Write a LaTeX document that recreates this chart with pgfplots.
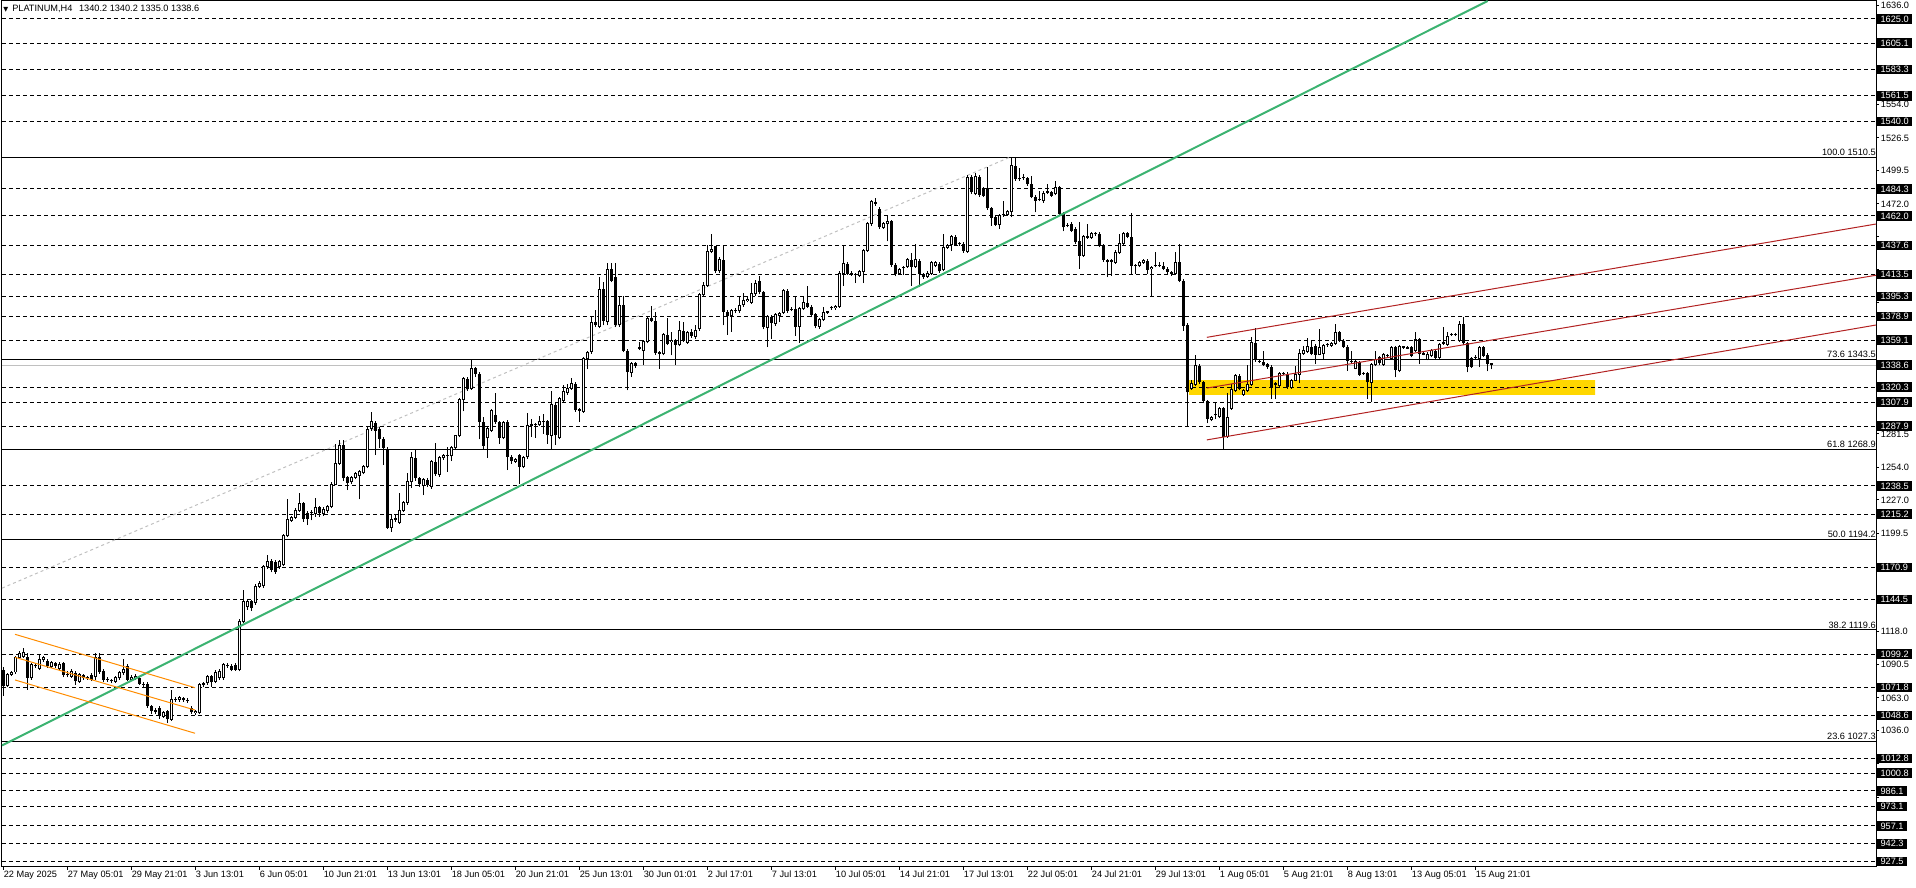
\documentclass[border=0pt]{standalone}
\usepackage{pgfplots}
\pgfplotsset{compat=1.18}
\usepackage{pgfplotstable}
\usepackage{fontspec}
\setmainfont{Liberation Sans}
\newfontfamily\symf{DejaVu Sans}
\newcommand\tf{\fontsize{6.9pt}{8pt}\selectfont}
\newcommand\titlef{\fontsize{6.9pt}{8pt}\selectfont}
\definecolor{mtgreen}{RGB}{60,179,113}
\definecolor{mtorange}{RGB}{255,140,0}
\definecolor{mtred}{RGB}{178,34,34}
\definecolor{mtgold}{RGB}{255,215,0}
\definecolor{mtgray}{RGB}{192,192,192}

\pgfplotstableread{
i o h l c
0 1086.5 1089.0 1065.0 1072.7
1 1073.3 1084.0 1072.0 1082.3
2 1082.3 1085.5 1081.0 1083.7
3 1084.5 1098.0 1083.0 1096.9
4 1096.1 1101.5 1095.0 1100.2
5 1097.0 1104.3 1096.0 1100.8
6 1096.9 1100.2 1069.9 1079.6
7 1079.6 1092.0 1078.0 1090.6
8 1090.6 1092.0 1088.0 1089.2
9 1087.8 1098.8 1086.0 1094.7
10 1094.7 1098.0 1093.0 1096.1
11 1093.3 1095.0 1088.0 1089.2
12 1089.2 1094.0 1088.0 1092.0
13 1092.0 1093.0 1088.0 1089.8
14 1087.8 1093.0 1086.5 1091.1
15 1092.0 1093.0 1080.0 1082.3
16 1082.3 1085.0 1080.0 1082.6
17 1081.0 1087.0 1079.6 1085.1
18 1083.7 1085.0 1074.0 1076.8
19 1076.8 1084.0 1075.5 1082.3
20 1082.3 1083.0 1078.0 1079.6
21 1079.6 1081.5 1078.0 1080.0
22 1082.3 1083.7 1077.0 1078.2
23 1080.4 1100.2 1078.0 1096.9
24 1096.9 1100.2 1083.0 1084.3
25 1085.1 1087.0 1076.0 1078.2
26 1078.2 1080.0 1076.5 1078.6
27 1078.2 1079.0 1075.0 1076.8
28 1076.8 1081.0 1075.5 1079.6
29 1079.6 1085.0 1078.0 1083.7
30 1083.7 1095.3 1082.0 1086.5
31 1089.2 1091.0 1077.0 1078.2
32 1078.2 1082.0 1077.0 1079.6
33 1079.6 1083.0 1078.0 1081.0
34 1079.6 1081.0 1074.0 1074.9
35 1074.9 1076.0 1071.0 1074.1
36 1074.9 1076.0 1055.0 1056.2
37 1056.2 1057.0 1050.0 1052.1
38 1052.1 1054.5 1050.0 1052.4
39 1054.8 1056.0 1046.0 1047.9
40 1047.9 1052.0 1046.5 1050.7
41 1052.1 1053.0 1042.4 1045.2
42 1045.2 1069.9 1044.0 1061.7
43 1061.7 1064.0 1060.0 1062.0
44 1062.0 1065.0 1060.0 1063.1
45 1063.1 1064.0 1060.0 1061.7
46 1061.7 1063.0 1059.0 1060.3
47 1054.8 1056.0 1050.0 1051.2
48 1051.2 1053.0 1049.3 1052.1
49 1050.7 1075.5 1050.0 1074.1
50 1074.1 1076.0 1072.0 1074.6
51 1075.5 1082.0 1074.0 1080.4
52 1081.0 1082.0 1072.0 1076.0
53 1076.8 1086.0 1075.0 1083.7
54 1079.6 1087.0 1078.0 1085.1
55 1079.6 1092.0 1078.0 1090.6
56 1090.6 1092.0 1088.0 1089.2
57 1089.8 1091.0 1085.0 1086.5
58 1090.6 1092.0 1085.5 1086.5
59 1086.5 1128.0 1085.0 1126.4
60 1126.4 1152.0 1125.0 1142.9
61 1138.8 1145.0 1136.0 1142.9
62 1142.9 1144.0 1135.0 1137.4
63 1142.0 1157.0 1140.0 1155.3
64 1155.3 1160.0 1154.0 1158.0
65 1155.8 1173.0 1154.0 1171.8
66 1171.8 1181.4 1170.0 1175.9
67 1176.7 1178.0 1167.0 1169.0
68 1175.9 1177.0 1166.0 1167.6
69 1171.8 1177.0 1170.0 1175.9
70 1173.2 1198.5 1172.0 1197.1
71 1197.1 1227.4 1196.0 1210.9
72 1210.3 1214.0 1209.0 1212.5
73 1212.5 1220.0 1211.0 1218.0
74 1218.0 1232.3 1217.0 1224.1
75 1224.1 1225.0 1209.0 1210.9
76 1216.4 1218.0 1206.0 1210.9
77 1216.4 1219.0 1210.0 1216.8
78 1215.8 1228.2 1213.0 1220.8
79 1220.8 1222.0 1213.0 1215.8
80 1215.3 1221.0 1214.0 1219.1
81 1218.0 1223.0 1216.0 1221.3
82 1221.3 1241.5 1220.0 1240.0
83 1240.0 1273.6 1239.0 1257.1
84 1257.1 1276.9 1256.0 1272.2
85 1272.2 1276.3 1243.0 1244.7
86 1245.5 1247.0 1235.1 1240.6
87 1241.9 1247.0 1240.0 1245.5
88 1245.5 1250.0 1244.0 1248.8
89 1247.5 1251.5 1227.4 1250.2
90 1249.4 1256.0 1248.0 1254.3
91 1254.9 1287.0 1253.0 1285.2
92 1286.0 1299.7 1284.0 1291.5
93 1290.7 1292.0 1264.0 1284.1
94 1286.0 1287.0 1270.0 1277.7
95 1277.7 1279.0 1255.7 1270.0
96 1269.4 1270.5 1203.0 1203.9
97 1203.9 1214.9 1200.6 1211.1
98 1211.1 1214.4 1209.0 1211.4
99 1208.3 1232.3 1207.0 1218.5
100 1218.5 1226.0 1217.0 1224.8
101 1224.8 1249.6 1223.0 1241.9
102 1241.9 1266.7 1237.0 1261.7
103 1261.7 1268.9 1243.0 1244.7
104 1245.2 1246.0 1238.0 1239.7
105 1239.2 1245.0 1230.9 1243.6
106 1243.6 1245.0 1238.0 1239.2
107 1237.8 1260.0 1236.0 1258.4
108 1258.4 1274.4 1247.0 1248.0
109 1248.0 1263.0 1246.0 1261.7
110 1261.7 1265.3 1260.0 1263.4
111 1263.4 1270.8 1250.2 1263.0
112 1263.4 1271.5 1259.0 1270.0
113 1270.0 1281.0 1269.0 1279.9
114 1279.9 1311.5 1279.0 1310.2
115 1310.2 1328.5 1300.3 1327.2
116 1327.2 1329.0 1317.0 1319.0
117 1319.0 1343.2 1318.0 1335.5
118 1336.0 1337.0 1328.6 1331.4
119 1331.4 1332.5 1277.1 1291.4
120 1291.4 1295.6 1269.4 1271.6
121 1278.2 1287.0 1261.7 1285.9
122 1284.6 1302.5 1283.0 1301.1
123 1297.0 1315.7 1290.0 1291.4
124 1291.4 1292.5 1273.6 1278.2
125 1278.2 1292.5 1277.0 1291.4
126 1291.4 1293.0 1251.5 1262.6
127 1262.6 1264.0 1257.0 1259.0
128 1259.0 1262.0 1257.5 1260.6
129 1263.9 1265.0 1240.5 1254.3
130 1254.3 1263.0 1253.0 1261.7
131 1262.6 1299.2 1261.0 1288.7
132 1288.7 1293.6 1279.1 1289.3
133 1289.3 1291.0 1278.2 1289.0
134 1289.3 1296.4 1288.0 1292.0
135 1292.0 1298.3 1281.8 1291.4
136 1292.0 1293.0 1273.6 1280.4
137 1280.4 1316.8 1269.4 1305.8
138 1305.8 1307.0 1272.2 1280.4
139 1278.2 1312.0 1277.1 1310.7
140 1309.3 1321.7 1308.0 1316.8
141 1315.7 1323.1 1314.0 1319.0
142 1319.0 1327.8 1318.0 1323.1
143 1323.1 1324.5 1300.0 1301.1
144 1301.1 1303.0 1291.4 1301.5
145 1300.3 1345.0 1299.0 1343.7
146 1343.7 1350.5 1335.5 1349.2
147 1349.8 1379.5 1348.0 1374.0
148 1374.6 1384.5 1370.0 1371.3
149 1370.7 1411.2 1369.0 1401.5
150 1401.5 1407.0 1371.3 1375.4
151 1374.6 1422.7 1371.3 1418.0
152 1418.0 1422.7 1407.0 1408.4
153 1411.2 1422.7 1370.0 1371.8
154 1371.8 1396.0 1370.0 1387.8
155 1388.3 1396.0 1349.0 1350.6
156 1350.6 1351.5 1317.6 1332.7
157 1332.2 1341.5 1328.6 1340.2
158 1340.2 1341.0 1336.5 1337.7
159 1352.5 1357.5 1351.0 1353.0
160 1350.6 1359.5 1338.8 1358.0
161 1358.0 1378.5 1356.5 1377.3
162 1377.3 1387.2 1374.0 1375.4
163 1375.4 1382.3 1347.0 1348.4
164 1348.4 1350.0 1335.5 1348.8
165 1347.9 1365.0 1346.5 1363.8
166 1363.8 1377.3 1355.0 1356.1
167 1358.0 1366.3 1346.5 1358.9
168 1358.9 1360.0 1338.8 1355.3
169 1355.3 1375.4 1354.0 1367.1
170 1366.6 1374.0 1357.5 1358.9
171 1357.5 1367.0 1356.0 1365.5
172 1366.3 1368.0 1361.0 1362.5
173 1362.5 1371.5 1360.5 1367.1
174 1368.5 1398.0 1367.0 1396.6
175 1396.6 1407.0 1395.0 1404.3
176 1404.3 1437.9 1403.0 1432.4
177 1432.4 1447.0 1431.0 1434.6
178 1436.8 1437.4 1415.0 1416.7
179 1416.7 1428.0 1415.0 1426.3
180 1425.7 1436.8 1371.3 1382.8
181 1382.8 1384.0 1363.8 1379.5
182 1379.5 1385.0 1366.3 1383.6
183 1383.6 1386.0 1381.5 1383.9
184 1383.6 1396.0 1382.0 1387.8
185 1388.3 1398.2 1387.0 1391.9
186 1391.9 1395.0 1390.5 1393.0
187 1390.6 1406.3 1389.5 1398.0
188 1397.5 1409.1 1396.0 1406.3
189 1408.0 1412.6 1397.0 1398.9
190 1398.9 1399.5 1368.0 1369.9
191 1369.9 1380.0 1353.4 1378.7
192 1378.7 1380.0 1360.3 1373.2
193 1373.2 1382.0 1371.0 1380.4
194 1379.6 1382.5 1374.1 1380.9
195 1382.3 1401.6 1381.0 1400.2
196 1400.2 1401.6 1382.0 1383.7
197 1385.1 1386.5 1383.0 1384.2
198 1385.1 1396.1 1363.0 1369.9
199 1370.5 1386.5 1356.7 1385.1
200 1385.1 1396.1 1384.0 1390.6
201 1389.8 1404.4 1386.0 1387.0
202 1387.0 1388.5 1378.0 1379.6
203 1380.9 1382.0 1369.0 1370.5
204 1370.5 1377.5 1368.5 1376.0
205 1376.0 1386.5 1375.0 1382.3
206 1382.3 1383.7 1381.0 1382.6
207 1385.9 1387.5 1384.5 1386.2
208 1385.9 1388.5 1384.5 1387.0
209 1387.0 1416.0 1386.0 1414.6
210 1414.6 1438.3 1404.4 1422.3
211 1422.3 1423.5 1413.0 1414.0
212 1414.0 1416.0 1412.5 1414.3
213 1413.5 1415.0 1406.3 1413.8
214 1412.6 1417.5 1411.5 1416.2
215 1416.2 1434.5 1406.3 1433.3
216 1433.3 1457.0 1432.0 1455.9
217 1455.9 1475.5 1454.0 1474.1
218 1473.3 1476.6 1470.5 1471.9
219 1467.8 1469.0 1451.0 1452.6
220 1452.6 1457.0 1451.5 1455.4
221 1455.4 1462.0 1441.0 1457.6
222 1457.6 1459.0 1420.0 1421.7
223 1421.7 1423.0 1412.0 1414.0
224 1414.6 1419.0 1413.0 1417.3
225 1419.0 1420.5 1413.5 1419.3
226 1420.1 1427.0 1419.0 1425.6
227 1425.6 1431.1 1404.4 1420.1
228 1420.1 1438.8 1419.0 1425.6
229 1425.0 1426.5 1403.0 1414.0
230 1414.0 1415.0 1410.0 1411.3
231 1412.0 1416.0 1411.0 1414.6
232 1414.6 1425.0 1413.5 1423.7
233 1420.9 1425.0 1419.5 1423.7
234 1422.3 1423.5 1415.0 1416.2
235 1417.3 1447.1 1416.0 1436.1
236 1436.1 1439.0 1435.0 1437.4
237 1438.3 1446.5 1432.8 1444.9
238 1444.9 1446.0 1437.0 1438.3
239 1438.8 1440.5 1437.5 1439.2
240 1438.8 1440.0 1431.5 1432.8
241 1432.8 1495.5 1431.5 1494.0
242 1494.0 1495.5 1480.0 1481.5
243 1480.2 1497.5 1479.0 1494.5
244 1494.5 1496.0 1478.0 1479.6
245 1484.3 1486.0 1477.5 1478.8
246 1485.1 1502.8 1467.0 1468.3
247 1468.3 1469.5 1454.0 1460.3
248 1461.4 1463.0 1453.5 1454.8
249 1454.8 1463.5 1451.2 1462.2
250 1463.1 1474.6 1461.5 1463.4
251 1463.1 1467.0 1462.0 1465.8
252 1465.8 1510.5 1460.9 1503.6
253 1503.6 1510.5 1491.0 1492.6
254 1492.6 1501.7 1491.0 1492.9
255 1493.4 1496.7 1492.0 1494.0
256 1493.4 1494.5 1487.0 1488.4
257 1488.4 1495.3 1476.5 1478.0
258 1478.0 1479.0 1465.0 1474.6
259 1475.2 1482.9 1474.0 1475.5
260 1474.6 1482.9 1473.0 1480.7
261 1481.5 1488.4 1480.0 1481.8
262 1481.5 1482.5 1477.5 1478.8
263 1480.2 1490.6 1479.0 1485.7
264 1485.7 1487.0 1462.0 1463.6
265 1463.6 1465.0 1449.3 1452.6
266 1454.0 1456.0 1452.5 1454.3
267 1455.4 1457.0 1448.5 1449.8
268 1451.2 1452.5 1439.0 1440.2
269 1441.6 1456.7 1418.2 1429.2
270 1429.2 1446.5 1428.0 1444.9
271 1444.3 1455.4 1443.0 1444.6
272 1444.3 1449.0 1443.0 1447.6
273 1447.1 1448.5 1445.5 1447.4
274 1447.1 1448.5 1436.0 1437.4
275 1437.4 1438.5 1424.0 1425.6
276 1425.6 1426.5 1411.3 1423.7
277 1424.5 1426.0 1412.6 1424.8
278 1423.7 1433.5 1422.5 1431.9
279 1431.9 1447.1 1430.5 1439.4
280 1438.8 1448.5 1437.5 1447.1
281 1447.6 1448.5 1443.5 1444.9
282 1444.3 1464.2 1414.0 1420.9
283 1420.9 1422.5 1414.0 1421.2
284 1420.9 1425.0 1419.5 1423.7
285 1423.7 1426.5 1422.5 1425.0
286 1425.0 1426.5 1414.0 1417.3
287 1418.2 1420.5 1396.1 1419.3
288 1420.9 1431.9 1419.5 1421.2
289 1420.9 1423.7 1419.5 1421.2
290 1420.9 1423.7 1417.0 1418.2
291 1418.2 1419.5 1414.0 1415.4
292 1415.4 1416.5 1412.5 1414.0
293 1414.0 1431.9 1413.0 1423.7
294 1423.7 1438.8 1407.0 1408.5
295 1408.5 1409.5 1367.0 1371.1
296 1372.0 1373.0 1288.2 1315.9
297 1319.5 1326.1 1318.0 1323.3
298 1322.8 1347.1 1321.5 1338.5
299 1338.0 1339.5 1323.0 1324.2
300 1324.2 1325.0 1307.0 1308.4
301 1308.4 1309.5 1290.2 1293.8
302 1293.2 1296.5 1292.0 1295.2
303 1297.4 1307.6 1293.8 1297.7
304 1295.7 1304.0 1294.5 1302.9
305 1302.9 1304.0 1268.9 1279.1
306 1279.1 1315.1 1278.0 1295.2
307 1302.9 1322.8 1301.5 1318.6
308 1317.8 1331.1 1316.5 1329.7
309 1329.7 1331.0 1317.5 1318.6
310 1314.5 1319.0 1313.0 1317.8
311 1317.8 1338.5 1316.5 1322.8
312 1322.8 1361.5 1321.5 1357.3
313 1356.5 1369.2 1341.5 1342.7
314 1341.6 1343.0 1340.5 1341.9
315 1340.7 1350.4 1337.5 1338.8
316 1339.4 1340.5 1335.5 1336.6
317 1337.2 1338.5 1310.4 1320.0
318 1322.8 1324.5 1310.4 1323.1
319 1321.4 1333.0 1320.0 1331.6
320 1331.6 1333.0 1330.5 1331.9
321 1331.1 1332.5 1319.0 1320.0
322 1320.0 1327.0 1319.0 1325.5
323 1326.1 1338.0 1325.0 1331.1
324 1331.1 1351.8 1323.3 1348.2
325 1348.2 1354.6 1347.0 1350.4
326 1349.9 1360.9 1348.5 1353.7
327 1353.7 1358.7 1346.5 1347.7
328 1354.6 1356.0 1339.4 1347.1
329 1347.7 1368.4 1346.5 1353.2
330 1348.2 1356.0 1343.5 1354.6
331 1355.4 1357.0 1353.7 1355.7
332 1354.6 1358.0 1353.5 1356.5
333 1356.5 1372.5 1355.5 1365.6
334 1365.6 1367.0 1357.5 1358.7
335 1358.7 1360.0 1352.5 1353.7
336 1353.7 1355.0 1333.9 1342.1
337 1341.6 1350.4 1340.5 1341.9
338 1336.1 1343.0 1335.0 1341.6
339 1340.7 1342.0 1329.5 1330.5
340 1331.6 1333.0 1330.5 1331.9
341 1331.6 1333.0 1310.4 1324.2
342 1324.2 1340.0 1307.6 1338.8
343 1338.8 1350.4 1337.5 1343.5
344 1344.9 1346.0 1338.5 1339.9
345 1339.4 1348.5 1338.0 1347.1
346 1346.3 1348.0 1345.0 1346.6
347 1344.3 1354.5 1343.0 1353.2
348 1353.2 1354.5 1328.3 1334.4
349 1333.9 1355.0 1332.5 1353.7
350 1353.2 1354.5 1352.0 1353.5
351 1352.6 1354.0 1351.5 1352.9
352 1353.2 1354.5 1345.0 1346.3
353 1350.4 1365.6 1349.0 1359.3
354 1360.1 1361.0 1339.4 1347.7
355 1347.7 1349.5 1346.5 1348.0
356 1343.5 1349.0 1342.5 1347.7
357 1346.3 1351.5 1345.0 1350.4
358 1350.4 1351.5 1343.0 1344.3
359 1344.9 1356.5 1343.5 1355.4
360 1356.5 1370.3 1355.5 1357.3
361 1355.9 1365.6 1354.5 1362.0
362 1363.7 1365.0 1362.5 1364.0
363 1363.7 1365.0 1362.5 1364.0
364 1358.7 1375.3 1357.5 1372.5
365 1372.5 1378.6 1355.0 1356.5
366 1356.5 1357.5 1332.5 1337.2
367 1344.3 1345.5 1336.0 1337.2
368 1344.9 1346.5 1343.5 1345.2
369 1344.3 1354.5 1336.6 1353.2
370 1353.2 1354.5 1345.0 1346.3
371 1347.1 1348.5 1333.3 1339.4
372 1340.2 1340.2 1335.0 1338.6
}\candles

\begin{document}
\begin{tikzpicture}
\useasboundingbox (-1.5pt,-15.75pt) rectangle (1435.5pt,650.25pt);
\begin{axis}[
  at={(0pt,0pt)}, anchor=south west,
  scale only axis, width=1405.5pt, height=649.5pt,
  xmin=-0.4, xmax=468.1, ymin=923.1, ymax=1639.9,
  clip=false,
  axis line style={black, line width=0.75pt},
  xtick={0,16,...,368},
  xticklabels={22 May 2025, 27 May 05:01, 29 May 21:01, 3 Jun 13:01, 6 Jun 05:01, 10 Jun 21:01, 13 Jun 13:01, 18 Jun 05:01, 20 Jun 21:01, 25 Jun 13:01, 30 Jun 01:01, 2 Jul 17:01, 7 Jul 13:01, 10 Jul 05:01, 14 Jul 21:01, 17 Jul 13:01, 22 Jul 05:01, 24 Jul 21:01, 29 Jul 13:01, 1 Aug 05:01, 5 Aug 21:01, 8 Aug 13:01, 13 Aug 05:01, 15 Aug 21:01},
  ytick={1636.0,1608.5,1581.5,1554.0,1526.5,1499.5,1472.0,1445.0,1417.5,1390.5,1363.0,1336.0,1308.5,1281.5,1254.0,1227.0,1199.5,1172.0,1145.0,1118.0,1090.5,1063.0,1036.0,1008.5,981.0,954.0,926.5},
  yticklabels={1636.0,,,1554.0,1526.5,1499.5,1472.0,,,,,,,1281.5,1254.0,1227.0,1199.5,,,1118.0,1090.5,1063.0,1036.0,,,,},
  xtick pos=left, ytick pos=right, yticklabel pos=right,
  tick align=outside, major tick length=2.25pt,
  tick style={black, line width=0.75pt},
  ticklabel style={font=\tf},
  xticklabel style={anchor=north west, inner sep=0pt, xshift=0pt, yshift=-0.75pt},
  yticklabel style={anchor=west, inner sep=0pt, xshift=1.2pt},
  /pgf/number format/assume math mode=true,
]
% yellow zone
\addplot[fill=mtgold, draw=none] coordinates {(296.4,1313.9) (397.9,1313.9) (397.9,1326.1) (296.4,1326.1) (296.4,1313.9)};
% dashed horizontal levels
\pgfplotsinvokeforeach{1625.0,1605.1,1583.3,1561.5,1540.0,1484.3,1462.0,1437.6,1413.5,1395.3,1378.9,1359.1,1320.3,1307.9,1287.9,1238.5,1215.2,1170.9,1144.5,1099.2,1071.8,1048.6,1012.8,1000.8,986.1,973.1,957.1,942.3,927.5}{
  \addplot[black, line width=0.75pt, dash pattern=on 3pt off 2.25pt] coordinates {(-0.4,#1) (468.1,#1)};
}
% bid line
\addplot[mtgray, line width=0.75pt] coordinates {(-0.4,1338.6) (468.1,1338.6)};
% fibonacci levels
\pgfplotsinvokeforeach{1510.5,1343.5,1268.9,1194.2,1119.6,1027.3}{
  \addplot[black, line width=0.75pt] coordinates {(-0.4,#1) (468.1,#1)};
}
% fib trend line
\addplot[mtgray, line width=0.75pt, dash pattern=on 2.25pt off 2.25pt] coordinates {(-0.4,1153.9) (251.5,1510.5)};
% wicks
\addplot[draw=none, mark=none, error bars/.cd, y dir=plus, y explicit, error mark=none,
  error bar style={draw=black, solid, line width=0.75pt}]
  table[x=i, y=l, y error expr=\thisrow{h}-\thisrow{l}] {\candles};
% bearish bodies
\addplot[draw=none, mark=none, restrict expr to domain={\thisrow{o}-\thisrow{c}}{0:1000},
  error bars/.cd, y dir=plus, y explicit, error mark=none,
  error bar style={draw=black, solid, line width=2.25pt}]
  table[x=i, y=c, y error expr={max(\thisrow{o}-\thisrow{c},0.83)}] {\candles};
% bullish bodies outline
\addplot[draw=none, mark=none, restrict expr to domain={\thisrow{c}-\thisrow{o}}{0:1000},
  error bars/.cd, y dir=plus, y explicit, error mark=none,
  error bar style={draw=black, solid, line width=2.25pt}]
  table[x=i, y expr=\thisrow{o}-0.41, y error expr={\thisrow{c}-\thisrow{o}+0.83}] {\candles};
% bullish bodies interior
\addplot[draw=none, mark=none, restrict expr to domain={\thisrow{c}-\thisrow{o}}{0.9:1000},
  error bars/.cd, y dir=plus, y explicit, error mark=none,
  error bar style={draw=white, solid, line width=0.75pt}]
  table[x=i, y expr=\thisrow{o}+0.41, y error expr={\thisrow{c}-\thisrow{o}-0.83}] {\candles};
% green trend line
\addplot[mtgreen, line width=1.5pt] coordinates {(-0.4,1023.7) (371.0,1639.9)};
% orange channel
\addplot[mtorange, line width=0.75pt] coordinates {(2.85,1115.7) (47.85,1071.5)};
\addplot[mtorange, line width=0.75pt] coordinates {(2.85,1096.7) (47.85,1053.0)};
\addplot[mtorange, line width=0.75pt] coordinates {(2.85,1077.9) (47.85,1033.8)};
% red channel
\addplot[mtred, line width=0.75pt] coordinates {(300.8,1361.5) (468.1,1455.3)};
\addplot[mtred, line width=0.75pt] coordinates {(300.8,1319.5) (468.1,1412.9)};
\addplot[mtred, line width=0.75pt] coordinates {(300.8,1276.6) (468.1,1371.7)};
% fib labels
\addplot[only marks, mark=*, mark size=0pt, mark options={draw=none, fill=none},
  nodes near coords, point meta=explicit symbolic,
  nodes near coords style={anchor=south east, font=\tf, inner sep=0pt, yshift=0.9pt, text=black}]
  coordinates {(468.1,1510.5) [100.0 1510.5] (468.1,1343.5) [73.6 1343.5] (468.1,1268.9) [61.8 1268.9]
               (468.1,1194.2) [50.0 1194.2] (468.1,1119.6) [38.2 1119.6] (468.1,1027.3) [23.6 1027.3]};
% price boxes
\addplot[only marks, mark=*, mark size=0pt, mark options={draw=none, fill=none},
  nodes near coords, point meta=explicit symbolic,
  nodes near coords style={anchor=west, font=\tf, fill=black, text=white, inner xsep=2.6pt, inner ysep=0pt,
    minimum height=7.2pt, xshift=0.6pt}]
  coordinates {(468.1,1625.0) [1625.0] (468.1,1605.1) [1605.1] (468.1,1583.3) [1583.3] (468.1,1561.5) [1561.5]
   (468.1,1540.0) [1540.0] (468.1,1484.3) [1484.3] (468.1,1462.0) [1462.0] (468.1,1437.6) [1437.6]
   (468.1,1413.5) [1413.5] (468.1,1395.3) [1395.3] (468.1,1378.9) [1378.9] (468.1,1359.1) [1359.1]
   (468.1,1338.6) [1338.6] (468.1,1320.3) [1320.3] (468.1,1307.9) [1307.9] (468.1,1287.9) [1287.9]
   (468.1,1238.5) [1238.5] (468.1,1215.2) [1215.2] (468.1,1170.9) [1170.9] (468.1,1144.5) [1144.5]
   (468.1,1099.2) [1099.2] (468.1,1071.8) [1071.8] (468.1,1048.6) [1048.6] (468.1,1012.8) [1012.8]
   (468.1,1000.8) [1000.8] (468.1,986.1) [986.1] (468.1,973.1) [973.1] (468.1,957.1) [957.1]
   (468.1,942.3) [942.3] (468.1,927.5) [927.5]};
% title
\node[anchor=west, inner sep=0pt, font=\titlef] at ([xshift=0.8pt, yshift=-6pt]rel axis cs:0,1)
  {{\symf\fontsize{4.8pt}{5pt}\selectfont ▼}\hspace{3pt}PLATINUM,H4\hspace{5pt}1340.2 1340.2 1335.0 1338.6};
\end{axis}
\end{tikzpicture}
\end{document}
